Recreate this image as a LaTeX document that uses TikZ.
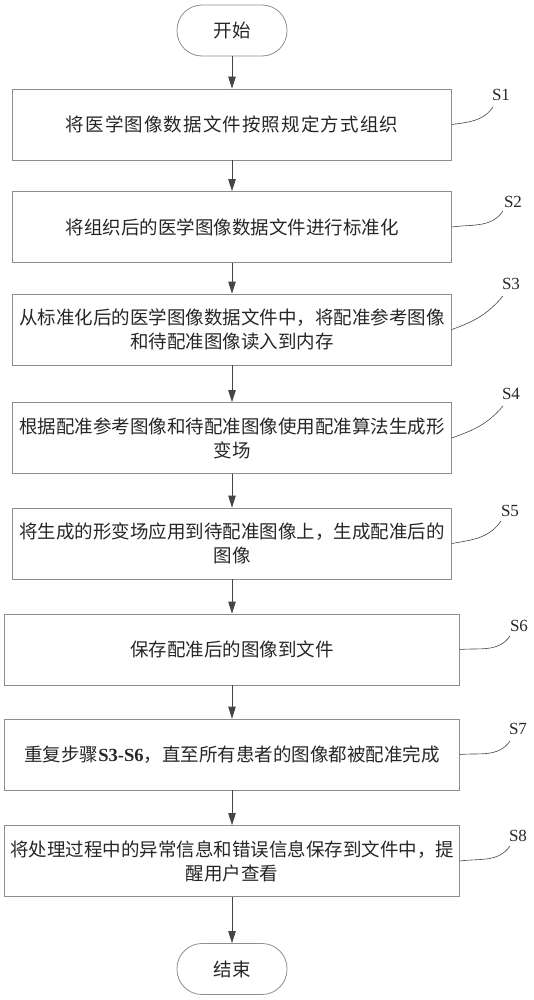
\documentclass[tikz,border=0pt]{standalone}
\usepackage{fontspec}
\setmainfont{Liberation Serif}
\newfontfamily\cjk{Noto Sans CJK SC}
\usetikzlibrary{arrows.meta}
\definecolor{boxgray}{HTML}{8E8E8E}
\definecolor{arrgray}{HTML}{454545}
\definecolor{txt}{HTML}{262626}
\newcommand\cjkfont{\cjk\fontsize{18.5}{24}\selectfont}
\begin{document}
\begin{tikzpicture}[x=1pt,y=-1pt,
  stepbox/.style={draw=boxgray, line width=0.8pt, minimum width=439pt, minimum height=71pt, inner sep=0pt, align=center, font=\cjkfont, text=txt},
  widebox/.style={stepbox, minimum width=455pt},
  pill/.style={draw=boxgray, line width=0.8pt, rounded corners=25pt, minimum width=110pt, minimum height=51pt, inner sep=0pt, font=\cjkfont, text=txt},
  arr/.style={draw=arrgray, line width=0.8pt, -{Triangle[length=12pt,width=7.5pt,fill=arrgray]}},
  lead/.style={draw=arrgray, line width=0.6pt},
  lbl/.style={font=\fontsize{17}{17}\selectfont, inner sep=0pt, text=txt}]
\useasboundingbox (0,0) rectangle (533,1000);
\node[pill] (start) at (232,30.5) {开始};
\node[stepbox] (b1) at (232,124.5) {{\addfontfeature{LetterSpace=6}将医学图像数据文件按照规定方式组织}};
\node[stepbox] (b2) at (232,227) {将组织后的医学图像数据文件进行标准化};
\node[stepbox] (b3) at (232,329.5) {从标准化后的医学图像数据文件中，将配准参考图像\\和待配准图像读入到内存};
\node[stepbox] (b4) at (232,438) {根据配准参考图像和待配准图像使用配准算法生成形\\变场};
\node[stepbox] (b5) at (232,543.5) {将生成的形变场应用到待配准图像上，生成配准后的\\图像};
\node[widebox] (b6) at (232,649.5) {保存配准后的图像到文件};
\node[widebox] (b7) at (232,754.5) {重复步骤{\rmfamily\bfseries S3-S6}，直至所有患者的图像都被配准完成};
\node[widebox] (b8) at (232,861) {将处理过程中的异常信息和错误信息保存到文件中，提\\醒用户查看};
\node[pill] (stop) at (232,969) {结束};

\draw[arr] (start) -- (b1);
\draw[arr] (b1) -- (b2);
\draw[arr] (b2) -- (b3);
\draw[arr] (b3) -- (b4);
\draw[arr] (b4) -- (b5);
\draw[arr] (b5) -- (b6);
\draw[arr] (b6) -- (b7);
\draw[arr] (b7) -- (b8);
\draw[arr] (b8) -- (stop);

\node[lbl] (l1) at (501,95) {S1};
\node[lbl] (l2) at (513,202) {S2};
\node[lbl] (l3) at (511,284) {S3};
\node[lbl] (l4) at (511,394) {S4};
\node[lbl] (l5) at (510,511) {S5};
\node[lbl] (l6) at (519,626) {S6};
\node[lbl] (l7) at (518,729) {S7};
\node[lbl] (l8) at (518,836) {S8};

\coordinate (e1) at (493,107);
\coordinate (e2) at (503,211);
\coordinate (e3) at (503,296);
\coordinate (e4) at (503,406);
\coordinate (e5) at (501,521);
\coordinate (e6) at (510,636);
\coordinate (e7) at (510,741);
\coordinate (e8) at (510,846);

\draw[lead] (b1.east) to[out=8,in=-125] (e1);
\draw[lead] (b2.east) to[out=8,in=-125] (e2);
\draw[lead] (b3.east) to[out=20,in=-130] (e3);
\draw[lead] (b4.east) to[out=20,in=-130] (e4);
\draw[lead] (b5.east) to[out=10,in=-125] (e5);
\draw[lead] (b6.east) to[out=5,in=-125] (e6);
\draw[lead] (b7.east) to[out=5,in=-125] (e7);
\draw[lead] (b8.east) to[out=8,in=-125] (e8);
\end{tikzpicture}
\end{document}
